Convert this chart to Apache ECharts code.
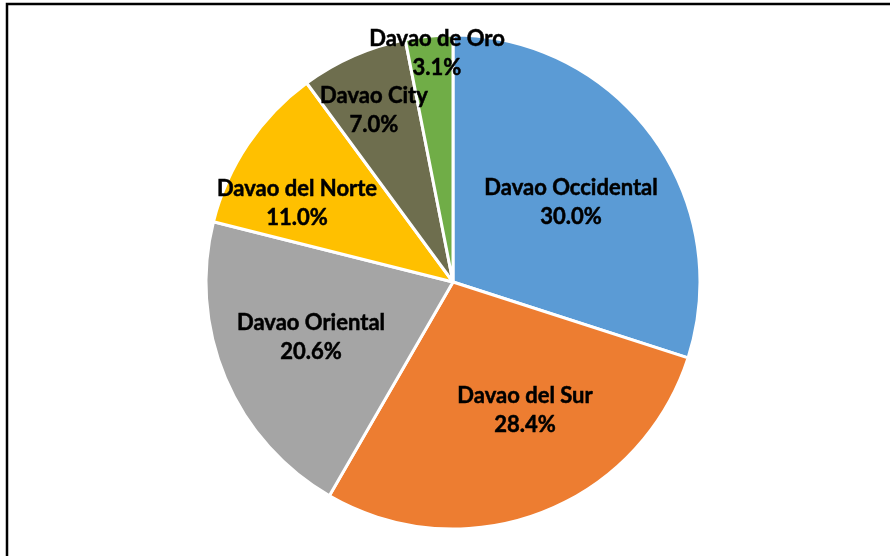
<!DOCTYPE html>
<html>
<head>
<meta charset="utf-8">
<script src="https://cdn.jsdelivr.net/npm/echarts@6/dist/echarts.min.js"></script>
<style>html,body{margin:0;padding:0;background:#fff}#c{width:890px;height:556px}</style>
</head>
<body>
<div id="c"></div>
<script>
const categories = ['Davao Occidental', 'Davao del Sur', 'Davao Oriental', 'Davao del Norte', 'Davao City', 'Davao de Oro'];
const values = [30.0, 28.4, 20.6, 11.0, 7.0, 3.1];
const colors = ['#5B9BD5', '#ED7D31', '#A5A5A5', '#FFC000', '#6E6E4E', '#70AD47'];
// label anchor positions (px) relative to pie centre
const labelOffsets = [[118, -80], [72, 128], [-142, 55], [-156, -79], [-79, -172], [-16, -229]];
const CX = 453, CY = 282;

const chart = echarts.init(document.getElementById('c'));
chart.setOption({
  animation: false,
  backgroundColor: '#fff',
  graphic: [{
    type: 'rect', shape: { x: 7, y: 4, width: 900, height: 600 },
    style: { fill: 'none', stroke: '#000', lineWidth: 2.5 }, silent: true
  }],
  series: [{
    type: 'pie',
    center: [CX, CY],
    radius: 247,
    startAngle: 90,
    clockwise: true,
    data: categories.map((c, i) => ({ name: c, value: values[i], itemStyle: { color: colors[i] } })),
    itemStyle: { borderColor: '#fff', borderWidth: 3 },
    label: {
      show: true,
      position: 'inside',
      formatter: p => p.name + '\n' + p.value.toFixed(1) + '%',
      color: '#000',
      fontFamily: 'Lato',
      fontWeight: 'bold',
      fontSize: 22,
      lineHeight: 29,
      textBorderColor: '#000',
      textBorderWidth: 0.5,
      align: 'center'
    },
    labelLine: { show: false },
    labelLayout: p => ({
      x: CX + labelOffsets[p.dataIndex][0],
      y: CY + labelOffsets[p.dataIndex][1],
      align: 'center', verticalAlign: 'middle'
    })
  }]
});
</script>
</body>
</html>
